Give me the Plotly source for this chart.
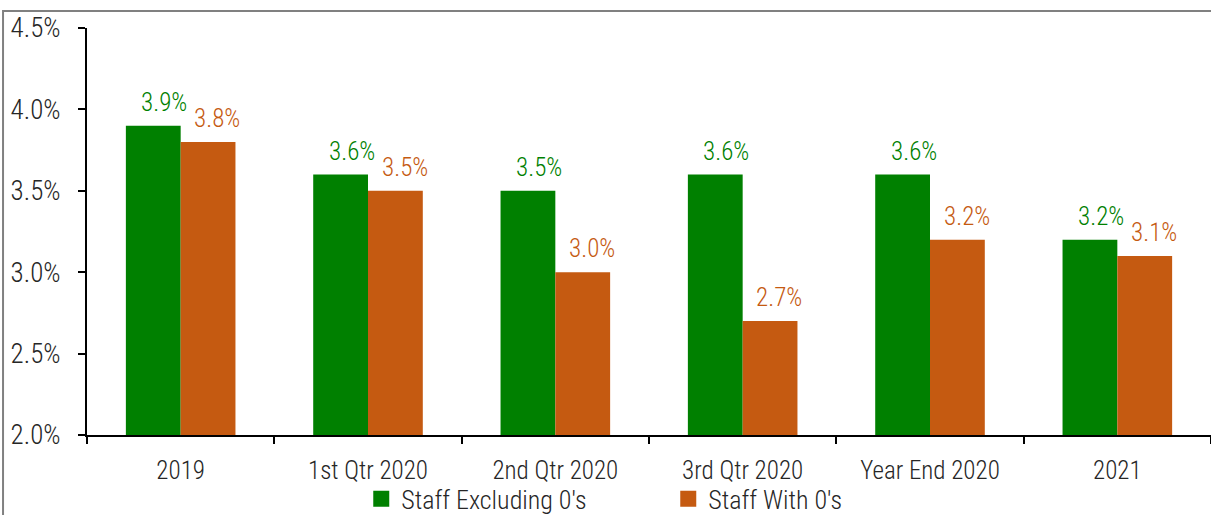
import plotly.graph_objects as go

categories = ["2019", "1st Qtr 2020", "2nd Qtr 2020", "3rd Qtr 2020", "Year End 2020", "2021"]
staff_excluding = [3.9, 3.6, 3.5, 3.6, 3.6, 3.2]
staff_with = [3.8, 3.5, 3.0, 2.7, 3.2, 3.1]
y_ticks = [2.0, 2.5, 3.0, 3.5, 4.0, 4.5]
y_tick_labels = ["2.0%", "2.5%", "3.0%", "3.5%", "4.0%", "4.5%"]
series_names = ["Staff Excluding 0's", "Staff With 0's"]

GREEN = "#008000"
ORANGE = "#C55A11"
TEXT = "#262626"
FONT = "Liberation Sans Narrow, Roboto Condensed, DejaVu Sans Condensed, Roboto, sans-serif"
W = 300

fig = go.Figure()
for name, vals, col in [(series_names[0], staff_excluding, GREEN), (series_names[1], staff_with, ORANGE)]:
    fig.add_trace(go.Bar(
        x=categories, y=vals, name=name, showlegend=False,
        marker=dict(color=col, line=dict(width=0)),
    ))
# legend entries with larger square swatches (points outside the visible range)
for name, col in [(series_names[0], GREEN), (series_names[1], ORANGE)]:
    fig.add_trace(go.Scatter(
        x=[categories[0]], y=[-10], mode="markers", name=name, hoverinfo="skip",
        marker=dict(symbol="square", size=16, color=col),
    ))

annotations = []
for vals, col, xs in [(staff_excluding, GREEN, -27.5 + 11), (staff_with, ORANGE, 27.5 + 9)]:
    for i, v in enumerate(vals):
        annotations.append(dict(
            x=i, y=v, xref="x", yref="y", text=f"{v:.1f}%", showarrow=False,
            xanchor="center", yanchor="bottom", xshift=xs, yshift=7,
            font=dict(color=col, size=25, family=FONT, weight=W),
        ))

fig.update_layout(
    width=1211, height=515,
    margin=dict(l=87, r=0, t=28, b=80, autoexpand=False),
    paper_bgcolor="white", plot_bgcolor="white",
    barmode="group", bargap=0.415, bargroupgap=0,
    font=dict(family=FONT, color=TEXT, size=24, weight=W),
    showlegend=True,
    annotations=annotations,
    legend=dict(
        orientation="h", x=0.244, xanchor="left", y=-0.157, yanchor="middle",
        font=dict(size=26, family=FONT, color=TEXT, weight=W),
        entrywidth=262, entrywidthmode="pixels",
        traceorder="normal", bgcolor="rgba(0,0,0,0)",
    ),
    xaxis=dict(
        type="category", categoryorder="array", categoryarray=categories,
        range=[-0.5, len(categories) - 0.5],
        showline=True, linecolor="black", linewidth=2,
        ticks="outside", tickson="boundaries", ticklen=7, tickwidth=2, tickcolor="black",
        tickfont=dict(size=25, family=FONT, color=TEXT, weight=W), ticklabelstandoff=12,
        tickangle=0, showgrid=False, zeroline=False,
    ),
    yaxis=dict(
        range=[2.0, 4.5], tickvals=y_ticks, ticktext=y_tick_labels,
        showline=True, linecolor="black", linewidth=2,
        ticks="outside", ticklen=7, tickwidth=2, tickcolor="black",
        tickfont=dict(size=27, family=FONT, color=TEXT, weight=W), ticklabelstandoff=12,
        showgrid=False, zeroline=False,
    ),
    shapes=[dict(
        type="rect", xref="paper", yref="paper",
        x0=-0.0747, x1=1.2, y0=-0.4, y1=1.0418,
        line=dict(color="#808080", width=2), fillcolor="rgba(0,0,0,0)", layer="below",
    )],
)

fig.write_html("out.html", config={"displayModeBar": False},
               post_script="document.body.style.margin='0';")
